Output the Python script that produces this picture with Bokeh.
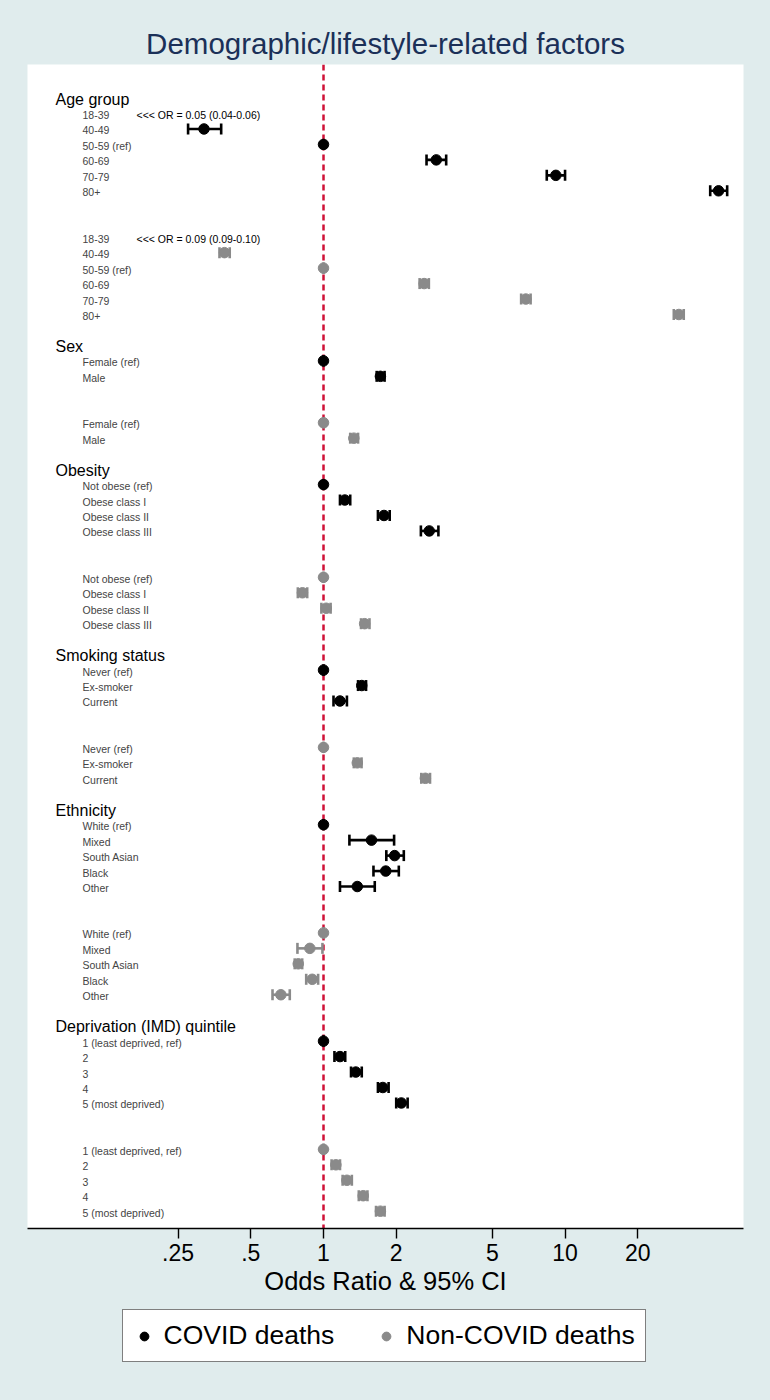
import math
from bokeh.plotting import figure
from bokeh.layouts import column
from bokeh.models import (Range1d, FixedTicker, CustomJSTickFormatter, Span, Legend,
                          ColumnDataSource)
from bokeh.core.properties import value
from bokeh.embed import file_html
from bokeh.resources import INLINE

# ---------------- data ----------------
group_names = ["Age group", "Sex", "Obesity", "Smoking status", "Ethnicity",
               "Deprivation (IMD) quintile"]

age_labels = ["18-39", "40-49", "50-59 (ref)", "60-69", "70-79", "80+"]
age_covid_or = [None, 0.32, 1.0, 2.93, 9.16, 43.2]
age_covid_lo = [None, 0.275, 1.0, 2.67, 8.40, 39.9]
age_covid_hi = [None, 0.377, 1.0, 3.22, 10.0, 46.9]
age_non_or = [None, 0.389, 1.0, 2.61, 6.88, 29.6]
age_non_lo = [None, 0.371, 1.0, 2.50, 6.58, 28.2]
age_non_hi = [None, 0.409, 1.0, 2.73, 7.20, 31.0]
age_covid_note = "<<< OR = 0.05 (0.04-0.06)"
age_non_note = "<<< OR = 0.09 (0.09-0.10)"

sex_labels = ["Female (ref)", "Male"]
sex_covid_or = [1.0, 1.72]
sex_covid_lo = [1.0, 1.66]
sex_covid_hi = [1.0, 1.79]
sex_non_or = [1.0, 1.335]
sex_non_lo = [1.0, 1.29]
sex_non_hi = [1.0, 1.39]

obe_labels = ["Not obese (ref)", "Obese class I", "Obese class II", "Obese class III"]
obe_covid_or = [1.0, 1.225, 1.78, 2.74]
obe_covid_lo = [1.0, 1.17, 1.68, 2.53]
obe_covid_hi = [1.0, 1.29, 1.88, 2.99]
obe_non_or = [1.0, 0.818, 1.026, 1.48]
obe_non_lo = [1.0, 0.783, 0.98, 1.43]
obe_non_hi = [1.0, 0.856, 1.07, 1.55]

smk_labels = ["Never (ref)", "Ex-smoker", "Current"]
smk_covid_or = [1.0, 1.44, 1.17]
smk_covid_lo = [1.0, 1.39, 1.10]
smk_covid_hi = [1.0, 1.50, 1.25]
smk_non_or = [1.0, 1.38, 2.64]
smk_non_lo = [1.0, 1.335, 2.54]
smk_non_hi = [1.0, 1.437, 2.76]

eth_labels = ["White (ref)", "Mixed", "South Asian", "Black", "Other"]
eth_covid_or = [1.0, 1.58, 1.97, 1.81, 1.38]
eth_covid_lo = [1.0, 1.28, 1.82, 1.61, 1.17]
eth_covid_hi = [1.0, 1.96, 2.15, 2.05, 1.63]
eth_non_or = [1.0, 0.878, 0.786, 0.898, 0.666]
eth_non_lo = [1.0, 0.78, 0.76, 0.848, 0.615]
eth_non_hi = [1.0, 0.99, 0.816, 0.95, 0.725]

imd_labels = ["1 (least deprived, ref)", "2", "3", "4", "5 (most deprived)"]
imd_covid_or = [1.0, 1.17, 1.36, 1.76, 2.10]
imd_covid_lo = [1.0, 1.11, 1.30, 1.68, 2.00]
imd_covid_hi = [1.0, 1.23, 1.44, 1.86, 2.23]
imd_non_or = [1.0, 1.125, 1.25, 1.46, 1.72]
imd_non_lo = [1.0, 1.08, 1.20, 1.40, 1.65]
imd_non_hi = [1.0, 1.17, 1.31, 1.52, 1.79]

tick_values = [0.25, 0.5, 1, 2, 5, 10, 20]
series_names = ["COVID deaths", "Non-COVID deaths"]

groups = [
    (age_labels, age_covid_or, age_covid_lo, age_covid_hi, age_non_or, age_non_lo, age_non_hi,
     age_covid_note, age_non_note),
    (sex_labels, sex_covid_or, sex_covid_lo, sex_covid_hi, sex_non_or, sex_non_lo, sex_non_hi, None, None),
    (obe_labels, obe_covid_or, obe_covid_lo, obe_covid_hi, obe_non_or, obe_non_lo, obe_non_hi, None, None),
    (smk_labels, smk_covid_or, smk_covid_lo, smk_covid_hi, smk_non_or, smk_non_lo, smk_non_hi, None, None),
    (eth_labels, eth_covid_or, eth_covid_lo, eth_covid_hi, eth_non_or, eth_non_lo, eth_non_hi, None, None),
    (imd_labels, imd_covid_or, imd_covid_lo, imd_covid_hi, imd_non_or, imd_non_lo, imd_non_hi, None, None),
]

# ---------------- row layout ----------------
head_rows, item_rows, item_texts = [], [], []
note_rows, note_texts = [], []
covid = dict(y=[], x=[], lo=[], hi=[])
non = dict(y=[], x=[], lo=[], hi=[])
r = 0
for name, g in zip(group_names, groups):
    labels, c_or, c_lo, c_hi, n_or, n_lo, n_hi, c_note, n_note = g
    n = len(labels)
    head_rows.append(r)
    for i in range(n):
        rc = r + 1 + i
        rn = r + n + 3 + i
        item_rows += [rc, rn]
        item_texts += [labels[i], labels[i]]
        if c_or[i] is not None:
            covid["y"].append(rc); covid["x"].append(c_or[i])
            covid["lo"].append(c_lo[i]); covid["hi"].append(c_hi[i])
        elif c_note:
            note_rows.append(rc); note_texts.append(c_note)
        if n_or[i] is not None:
            non["y"].append(rn); non["x"].append(n_or[i])
            non["lo"].append(n_lo[i]); non["hi"].append(n_hi[i])
        elif n_note:
            note_rows.append(rn); note_texts.append(n_note)
    r = r + 2 * n + 4

XMIN, XMAX = 0.0595, 54.8
BG = "#e0eced"
BLACK = "#000000"
GREY = "#8a8a8a"
FONT = "Liberation Sans"

p = figure(width=770, height=1300, x_axis_type="log",
           x_range=Range1d(XMIN, XMAX), y_range=Range1d(73.12, -2.17),
           output_backend="svg", toolbar_location=None, y_axis_location=None,
           min_border_left=27, min_border_right=27, min_border_top=64, min_border_bottom=72,
           background_fill_color="white", border_fill_color=BG, outline_line_color=None)
p.xgrid.visible = False
p.ygrid.visible = False

p.title.text = "Demographic/lifestyle-related factors"
p.title.align = "center"
p.title.text_font = FONT
p.title.text_font_size = "29.5px"
p.title.text_font_style = "normal"
p.title.text_color = "#1b3058"
p.title.standoff = 9

ref = Span(location=1, dimension="height", line_color="#cf1137", line_width=2.5,
           line_dash="6 4", level="underlay")
p.add_layout(ref)

def draw(d, color):
    src = ColumnDataSource(d)
    p.segment(x0="lo", y0="y", x1="hi", y1="y", source=src, line_color=color, line_width=2.6)
    caps = ColumnDataSource(dict(x=d["lo"] + d["hi"], y=d["y"] + d["y"]))
    p.scatter(x="x", y="y", source=caps, marker="dash", size=11, angle=math.pi / 2,
              line_color=color, line_width=2.6)
    return p.scatter(x="x", y="y", source=src, marker="circle", size=10.5,
                     fill_color=color, line_color=color)

draw(covid, BLACK)
draw(non, GREY)

p.text(x=[XMIN] * len(head_rows), y=head_rows, text=group_names, x_offset=28, y_offset=1,
       text_font=value(FONT), text_font_size="16px", text_baseline="middle", text_color="black")
p.text(x=[XMIN] * len(item_rows), y=item_rows, text=item_texts, x_offset=55, y_offset=1.5,
       text_font=value(FONT), text_font_size="10.5px", text_baseline="middle", text_color="#444444")
p.text(x=[XMIN] * len(note_rows), y=note_rows, text=note_texts, x_offset=109, y_offset=1.5,
       text_font=value(FONT), text_font_size="10.5px", text_baseline="middle", text_color="black")

ax = p.xaxis[0]
ax.ticker = FixedTicker(ticks=tick_values)
ax.formatter = CustomJSTickFormatter(code="""
    var s = String(Math.round(tick * 1000) / 1000);
    return s.startsWith('0.') ? s.substring(1) : s;
""")
ax.axis_label = "Odds Ratio & 95% CI"
ax.axis_label_text_font = FONT
ax.axis_label_text_font_size = "25.5px"
ax.axis_label_text_font_style = "normal"
ax.axis_label_text_color = "black"
ax.axis_label_standoff = 3
ax.major_label_text_font = FONT
ax.major_label_text_font_size = "23px"
ax.major_label_text_color = "black"
ax.major_label_standoff = 5
ax.major_tick_out = 10
ax.major_tick_in = 0
ax.minor_tick_line_color = None
ax.axis_line_width = 1.6
ax.major_tick_line_width = 1.4
ax.axis_line_color = "black"

# ---------------- legend strip ----------------
q = figure(width=770, height=100, output_backend="svg", toolbar_location=None,
           x_axis_location=None, y_axis_location=None,
           min_border_left=27, min_border_right=27, min_border_top=0, min_border_bottom=0,
           background_fill_color=BG, border_fill_color=BG, outline_line_color=None,
           x_range=Range1d(0, 1), y_range=Range1d(0, 1))
q.xgrid.visible = False
q.ygrid.visible = False
hidden = dict(x=[5.0], y=[5.0])   # outside the strip's range: only the legend glyph shows
lc = q.scatter(x="x", y="y", source=ColumnDataSource(hidden), marker="circle", size=10.5,
               fill_color=BLACK, line_color=BLACK)
ln = q.scatter(x="x", y="y", source=ColumnDataSource(hidden), marker="circle", size=10.5,
               fill_color=GREY, line_color=GREY)
legend = Legend(items=[(series_names[0], [lc]), (series_names[1], [ln])],
                orientation="horizontal", location=(94.5, 38),
                label_text_font=FONT, label_text_font_size="26.5px", label_text_color="black",
                glyph_width=22, glyph_height=28, label_height=28,
                padding=10, spacing=41, label_standoff=9, margin=0,
                border_line_color="black", border_line_width=1.5,
                background_fill_color="white", background_fill_alpha=1.0)
q.add_layout(legend, "center")

page = column(p, q, spacing=0, styles={"background-color": BG})
open("out.html", "w").write(file_html(page, INLINE))
